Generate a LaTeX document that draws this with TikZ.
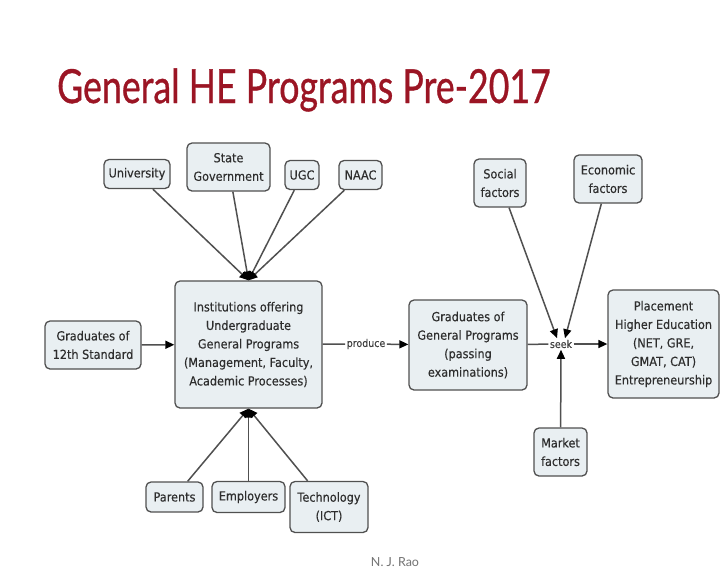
\documentclass[tikz,border=0pt]{standalone}
\usepackage{fontspec}
\usetikzlibrary{arrows.meta}
\newfontfamily\boxfont[FakeStretch=0.9,FakeBold=0.3]{DejaVu Sans}
\newfontfamily\titlefont[FakeBold=0.8]{Lato}
\newfontfamily\footfont{Lato}
\definecolor{titlered}{HTML}{9B1524}
\definecolor{boxfill}{HTML}{E9EFF2}
\definecolor{boxline}{HTML}{505050}
\definecolor{linkgray}{HTML}{505050}
\tikzset{
  concept/.style={draw=boxline, line width=1.3pt, rounded corners=5pt, fill=boxfill,
    align=center, inner sep=2pt, text=black!82,
    font=\boxfont\fontsize{12.5}{18.5}\selectfont},
  linklabel/.style={inner sep=1.5pt, text=black!75, font=\boxfont\fontsize{10.5}{12}\selectfont},
  link/.style={draw=linkgray, line width=1.5pt},
  arrowlink/.style={link, -{Triangle[length=9pt,width=8pt,black]}},
}
\begin{document}
\begin{tikzpicture}[x=1pt,y=-1pt]
\useasboundingbox (0,0) rectangle (720,579);
\fill[white] (0,0) rectangle (720,579);

% title
\node[anchor=west, text=titlered, inner sep=0pt, xscale=0.76,
  font=\titlefont\fontsize{47}{50}\selectfont] (title) at (57,90) {General HE Programs Pre-2017};

% concepts
\node[concept, minimum width=66pt, minimum height=29pt] (univ) at (137,174) {University};
\node[concept, minimum width=83pt, minimum height=48pt] (state) at (228.5,167) {State\\Government};
\node[concept, minimum width=34pt, minimum height=29pt] (ugc) at (302,175) {UGC};
\node[concept, minimum width=43pt, minimum height=29pt] (naac) at (360.5,175) {NAAC};

\node[concept, minimum width=147pt, minimum height=127pt] (inst) at (248.5,344.5)
  {Institutions offering\\Undergraduate\\General Programs\\(Management, Faculty,\\Academic Processes)};
\node[concept, minimum width=96pt, minimum height=48pt] (twelfth) at (93,345)
  {Graduates of\\12th Standard};
\node[concept, minimum width=118pt, minimum height=90pt] (grads) at (468,345)
  {Graduates of\\General Programs\\(passing\\examinations)};
\node[concept, minimum width=111pt, minimum height=108pt] (place) at (663.5,344)
  {Placement\\Higher Education\\(NET, GRE,\\GMAT, CAT)\\Entrepreneurship};

\node[concept, minimum width=52pt, minimum height=48pt] (social) at (500,183) {Social\\factors};
\node[concept, minimum width=68pt, minimum height=48pt] (econ) at (608,179) {Economic\\factors};
\node[concept, minimum width=53pt, minimum height=48pt] (market) at (560.5,452) {Market\\factors};

\node[concept, minimum width=57pt, minimum height=30pt] (parents) at (174.5,497) {Parents};
\node[concept, minimum width=73pt, minimum height=31pt] (employ) at (248.5,497) {Employers};
\node[concept, minimum width=78pt, minimum height=51pt] (tech) at (329,507) {Technology\\(ICT)};

% linking phrases
\node[linklabel] (produce) at (366,344) {produce};
\node[linklabel] (seek) at (561,344) {seek};

% connections
\foreach \src in {univ,state,ugc,naac}
  \draw[arrowlink] (\src) -- (inst.north);
\foreach \src in {parents,employ,tech}
  \draw[arrowlink] (\src) -- (inst.south);
\draw[arrowlink] (twelfth) -- (inst);
\draw[link] (inst) -- (produce);
\draw[arrowlink] (produce) -- (grads);
\draw[link] (grads) -- (seek);
\draw[arrowlink] (seek) -- (place);
\draw[arrowlink] (social) -- ([xshift=-4pt]seek.north);
\draw[arrowlink] (econ) -- ([xshift=4pt]seek.north);
\draw[arrowlink] (market) -- (seek.south);

% footer
\node[text=black!55, font=\footfont\fontsize{12.5}{14}\selectfont] (author) at (395,562) {N. J. Rao};
\end{tikzpicture}
\end{document}
